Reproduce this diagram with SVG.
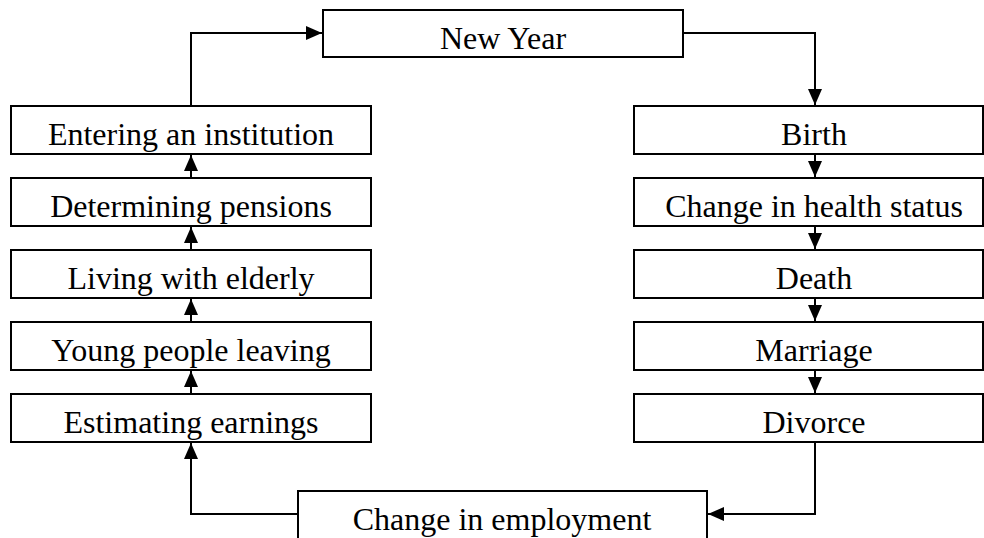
<svg xmlns="http://www.w3.org/2000/svg" width="984" height="538" viewBox="0 0 984 538">
  <style>
    .box { fill: #ffffff; stroke: #000000; stroke-width: 2; }
    .lbl { font-family: "Liberation Serif", "Times New Roman", serif; font-size: 32px; fill: #000000; text-anchor: middle; }
    .wire { fill: none; stroke: #000000; stroke-width: 2; }
  </style>
  <defs>
    <marker id="head" viewBox="0 0 16 14" refX="16" refY="7" markerWidth="16" markerHeight="14" markerUnits="userSpaceOnUse" orient="auto">
      <path d="M0,0 L16,7 L0,14 Z" fill="#000000"/>
    </marker>
  </defs>

  <rect width="984" height="538" fill="#ffffff"/>

  <!-- connectors -->
  <g id="connectors">
    <!-- loop around the top -->
    <path class="wire" d="M191,106 V33 H322" marker-end="url(#head)"/>
    <path class="wire" d="M683,33 H815 V105" marker-end="url(#head)"/>
    <!-- right column, downward -->
    <path class="wire" d="M815,154 V177" marker-end="url(#head)"/>
    <path class="wire" d="M815,226 V249" marker-end="url(#head)"/>
    <path class="wire" d="M815,298 V321" marker-end="url(#head)"/>
    <path class="wire" d="M815,370 V393" marker-end="url(#head)"/>
    <!-- loop around the bottom -->
    <path class="wire" d="M815,442 V514 H708" marker-end="url(#head)"/>
    <path class="wire" d="M298,514 H191 V443" marker-end="url(#head)"/>
    <!-- left column, upward -->
    <path class="wire" d="M191,394 V371" marker-end="url(#head)"/>
    <path class="wire" d="M191,322 V299" marker-end="url(#head)"/>
    <path class="wire" d="M191,250 V227" marker-end="url(#head)"/>
    <path class="wire" d="M191,178 V155" marker-end="url(#head)"/>
  </g>

  <g id="new-year">
    <rect class="box" x="323" y="10" width="360" height="47"/>
    <text class="lbl" x="503" y="49">New Year</text>
  </g>

  <g id="birth">
    <rect class="box" x="634" y="106" width="349" height="48"/>
    <text class="lbl" x="814" y="145">Birth</text>
  </g>
  <g id="health">
    <rect class="box" x="634" y="178" width="349" height="48"/>
    <text class="lbl" x="814" y="217">Change in health status</text>
  </g>
  <g id="death">
    <rect class="box" x="634" y="250" width="349" height="48"/>
    <text class="lbl" x="814" y="289">Death</text>
  </g>
  <g id="marriage">
    <rect class="box" x="634" y="322" width="349" height="48"/>
    <text class="lbl" x="814" y="361">Marriage</text>
  </g>
  <g id="divorce">
    <rect class="box" x="634" y="394" width="349" height="48"/>
    <text class="lbl" x="814" y="433">Divorce</text>
  </g>

  <g id="employment">
    <rect class="box" x="298" y="491" width="409" height="50"/>
    <text class="lbl" x="502" y="530">Change in employment</text>
  </g>

  <g id="earnings">
    <rect class="box" x="11" y="394" width="360" height="48"/>
    <text class="lbl" x="191" y="433">Estimating earnings</text>
  </g>
  <g id="leaving">
    <rect class="box" x="11" y="322" width="360" height="48"/>
    <text class="lbl" x="191" y="361">Young people leaving</text>
  </g>
  <g id="elderly">
    <rect class="box" x="11" y="250" width="360" height="48"/>
    <text class="lbl" x="191" y="289">Living with elderly</text>
  </g>
  <g id="pensions">
    <rect class="box" x="11" y="178" width="360" height="48"/>
    <text class="lbl" x="191" y="217">Determining pensions</text>
  </g>
  <g id="institution">
    <rect class="box" x="11" y="106" width="360" height="48"/>
    <text class="lbl" x="191" y="145">Entering an institution</text>
  </g>
</svg>
